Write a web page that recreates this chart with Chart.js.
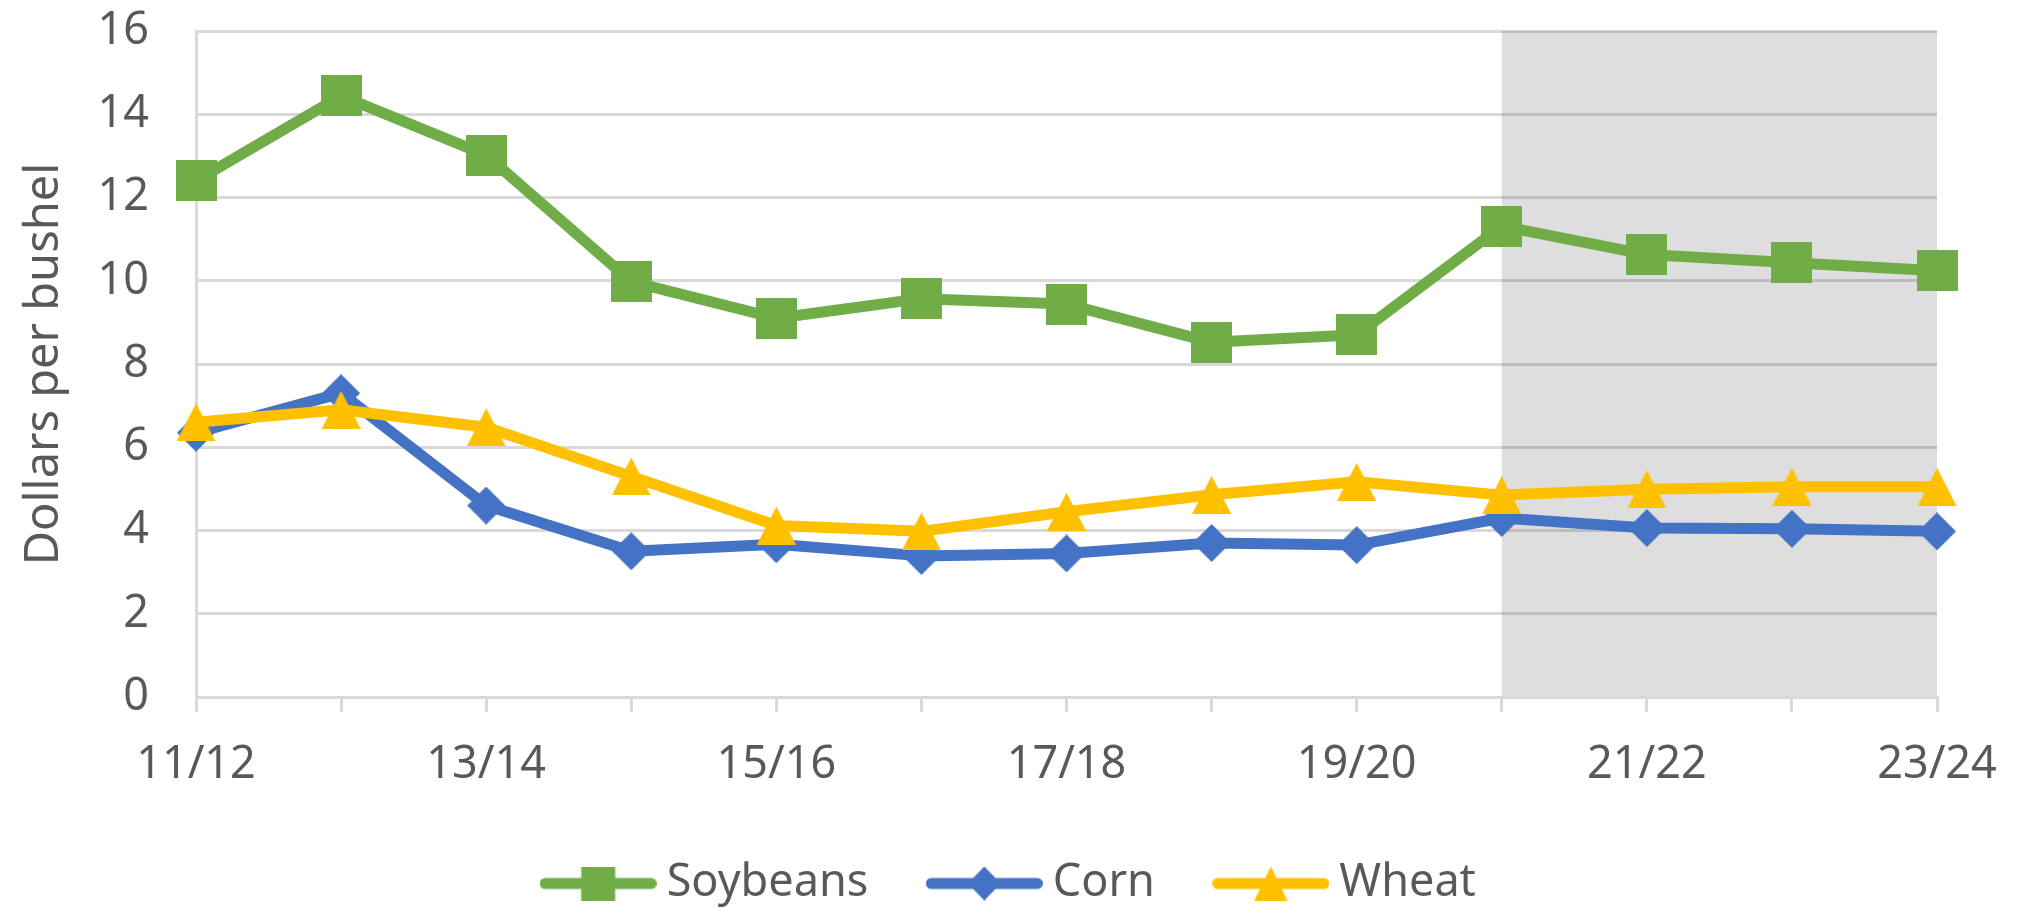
<!DOCTYPE html>
<html>
<head>
<meta charset="utf-8">
<title>Season-average prices</title>
<script src="https://cdn.jsdelivr.net/npm/chart.js@4.4.1/dist/chart.umd.min.js"></script>
<style>
  html, body { margin: 0; padding: 0; background: #ffffff; }
  #myChart { display: block; }
</style>
</head>
<body>
<canvas id="myChart" width="2028" height="909"></canvas>
<script>
// data
const seasons = ["11/12", "12/13", "13/14", "14/15", "15/16", "16/17", "17/18",
  "18/19", "19/20", "20/21", "21/22", "22/23", "23/24"];
const soybeanPrices = [12.4, 14.44, 13.02, 9.98, 9.1, 9.57, 9.44, 8.52, 8.7, 11.31, 10.63, 10.43, 10.24];
const cornPrices = [6.35, 7.3, 4.6, 3.5, 3.67, 3.39, 3.45, 3.7, 3.65, 4.3, 4.06, 4.04, 3.98];
const wheatPrices = [6.6, 6.9, 6.48, 5.3, 4.12, 3.98, 4.45, 4.86, 5.17, 4.85, 4.99, 5.05, 5.05];
const seriesNames = ["Soybeans", "Corn", "Wheat"];
const yTicks = [0, 2, 4, 6, 8, 10, 12, 14, 16];
const shadedSeasons = ["20/21", "23/24"]; // projected seasons get the gray box

const green = "#70ad47";
const blue = "#4472c4";
const yellow = "#ffc000";
const textGray = "#595959";
const axisGray = "#d9d9d9";

Chart.defaults.font.family = "'Noto Sans', 'Open Sans', sans-serif";
Chart.defaults.color = textGray;

// marker drawn on a small canvas, optionally with a line behind it (legend icon)
const makeMarker = (shape, color, w, h, lineLen, lineW) => {
  const c = document.createElement("canvas");
  const cw = lineLen || w;
  c.width = cw;
  c.height = h;
  const ctx = c.getContext("2d");
  ctx.fillStyle = color;
  ctx.strokeStyle = color;
  if (lineLen) {
    ctx.lineWidth = lineW;
    ctx.lineCap = "round";
    ctx.beginPath();
    ctx.moveTo(lineW / 2, h / 2);
    ctx.lineTo(cw - lineW / 2, h / 2);
    ctx.stroke();
  }
  const cx = cw / 2;
  const cy = h / 2;
  ctx.beginPath();
  if (shape === "square") {
    ctx.rect(cx - w / 2, cy - h / 2, w, h);
  } else if (shape === "diamond") {
    ctx.moveTo(cx, cy - h / 2);
    ctx.lineTo(cx + w / 2, cy);
    ctx.lineTo(cx, cy + h / 2);
    ctx.lineTo(cx - w / 2, cy);
  } else {
    ctx.moveTo(cx, cy - h / 2);
    ctx.lineTo(cx + w / 2, cy + h / 2);
    ctx.lineTo(cx - w / 2, cy + h / 2);
  }
  ctx.closePath();
  ctx.fill();
  return c;
};

const pointMarkers = [
  makeMarker("square", green, 41, 41),
  makeMarker("diamond", blue, 38, 38),
  makeMarker("triangle", yellow, 39, 38),
];
const legendIcons = [
  makeMarker("square", green, 34, 34, 117, 11),
  makeMarker("diamond", blue, 33, 34, 117, 11),
  makeMarker("triangle", yellow, 33, 34, 117, 11),
];

const shadePlugin = {
  id: "shade",
  beforeDraw(chart) {
    const { ctx, chartArea, scales } = chart;
    const x0 = scales.x.getPixelForValue(seasons.indexOf(shadedSeasons[0]));
    const x1 = scales.x.getPixelForValue(seasons.indexOf(shadedSeasons[1]));
    ctx.save();
    ctx.fillStyle = "#dedede";
    ctx.fillRect(x0, chartArea.top, x1 - x0, chartArea.bottom - chartArea.top);
    ctx.restore();
  },
};

const makeDataset = (i, values, color, order) => ({
  label: seriesNames[i],
  data: values,
  borderColor: color,
  backgroundColor: color,
  borderWidth: 11,
  borderJoinStyle: "round",
  pointStyle: pointMarkers[i],
  pointRadius: 20,
  pointHoverRadius: 20,
  tension: 0,
  clip: false,
  order: order,
});

const ctx = document.getElementById("myChart");

const mychart = new Chart(ctx, {
  type: "line",
  data: {
    labels: seasons,
    datasets: [
      makeDataset(0, soybeanPrices, green, 3),
      makeDataset(1, cornPrices, blue, 2),
      makeDataset(2, wheatPrices, yellow, 1),
    ],
  },
  options: {
    responsive: false,
    animation: false,
    devicePixelRatio: 1,
    layout: { padding: { left: 0, right: 0, top: 27, bottom: 0 } },
    plugins: {
      tooltip: { enabled: false },
      legend: {
        position: "bottom",
        maxHeight: 118,
        labels: {
          usePointStyle: true,
          pointStyleWidth: 92,
          padding: 70,
          color: textGray,
          font: { size: 45 },
          sort: (a, b) => a.datasetIndex - b.datasetIndex,
          generateLabels: (chart) => {
            const items = Chart.defaults.plugins.legend.labels.generateLabels(chart);
            items.forEach((item) => {
              item.pointStyle = legendIcons[item.datasetIndex];
            });
            return items;
          },
        },
      },
    },
    scales: {
      x: {
        offset: false,
        afterFit: (scale) => {
          scale.height = 94;
        },
        grid: {
          drawOnChartArea: false,
          drawTicks: true,
          tickLength: 15,
          color: axisGray,
          lineWidth: 3,
        },
        border: { color: axisGray, width: 3 },
        ticks: {
          autoSkip: false,
          maxRotation: 0,
          padding: 26,
          font: { size: 45 },
          callback: (val, i) => (i % 2 === 0 ? seasons[i] : ""),
        },
      },
      y: {
        min: yTicks[0],
        max: yTicks[yTicks.length - 1],
        afterFit: (scale) => {
          scale.width = 196;
          scale.paddingTop = 0;
          scale.paddingBottom = 0;
        },
        afterBuildTicks: (scale) => {
          scale.ticks = yTicks.map((v) => ({ value: v }));
        },
        grid: { drawTicks: false, color: "rgba(0,0,0,0.15)", lineWidth: 3 },
        border: { color: axisGray, width: 3 },
        ticks: { padding: 47, font: { size: 45 } },
        title: {
          display: true,
          text: "Dollars per bushel",
          color: textGray,
          font: { size: 47 },
          padding: { top: 16, bottom: 0 },
        },
      },
      // empty axis that only keeps the right margin of the plot
      rightGap: {
        type: "linear",
        position: "right",
        grid: { display: false },
        border: { display: false },
        ticks: { display: false },
        afterFit: (scale) => {
          scale.width = 91;
          scale.paddingTop = 0;
          scale.paddingBottom = 0;
        },
      },
    },
  },
  plugins: [shadePlugin],
});
</script>
</body>
</html>
